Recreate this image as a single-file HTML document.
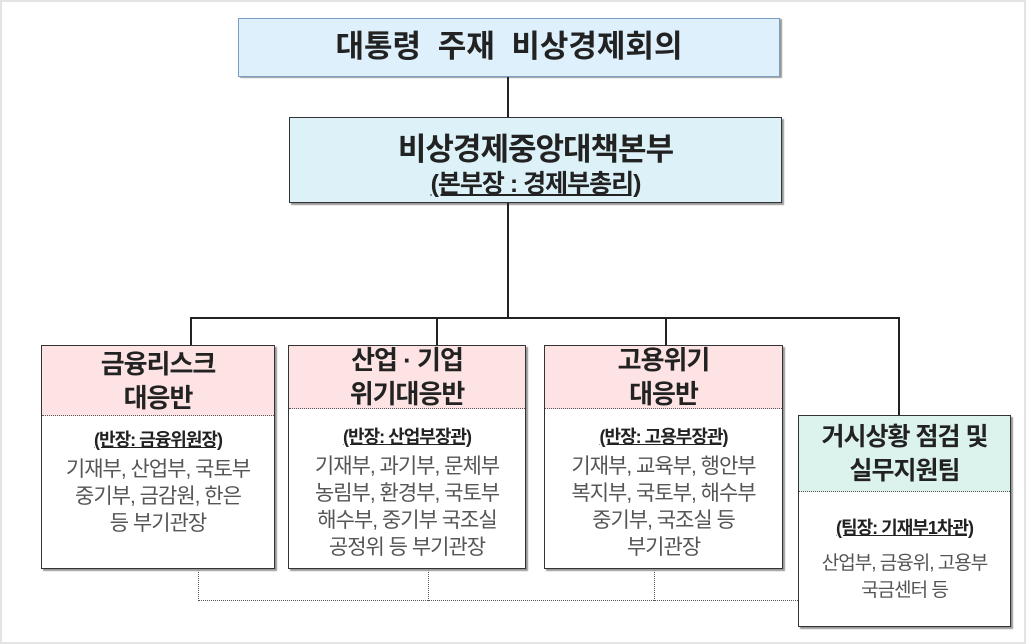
<!DOCTYPE html>
<html><head><meta charset="utf-8"><style>
body{margin:0;width:1026px;height:644px;background:#fff;position:relative;overflow:hidden;font-family:"Liberation Sans","Noto Sans CJK KR","NanumGothic",sans-serif}
div{position:absolute;box-sizing:border-box}
.l{background:#222}
.box{border:1.5px solid #333;background:#fff;box-shadow:2px 2px 1px #999}
.hd{left:0;right:0;top:0;background:#fde3e3;border-bottom:1.5px dotted #555;text-align:center;font-weight:bold;font-size:26px;line-height:34px;color:#222;display:flex;align-items:center;justify-content:center;letter-spacing:-1px}
.sub{left:0;right:0;text-align:center;font-weight:bold;font-size:18px;color:#222;letter-spacing:-1px}
.sub span{text-decoration:underline}
.bd{left:0;right:0;text-align:center;font-size:21px;line-height:27px;color:#555;letter-spacing:-1px;white-space:nowrap}
.dl{border-left:1.5px dotted #555;width:0}
</style></head><body>
<div style="left:0;top:0;width:1026px;height:644px;border:2px solid #e4e4e4"></div>
<div style="left:238px;top:18px;width:542px;height:59px;background:#ddf0fb;border:1.5px solid #7a9cc0;box-shadow:2px 1px 1px #999;text-align:center;font-weight:bold;font-size:31px;line-height:56px;color:#222;word-spacing:8px">대통령 주재 비상경제회의</div>
<div class="l" style="left:507px;top:77px;width:1.5px;height:40px"></div>
<div style="left:289px;top:117px;width:493px;height:86px;background:#ddf2f8;border:1.5px solid #333;box-shadow:2px 2px 1px #999;text-align:center;font-weight:bold;color:#222">
<div style="left:0;right:0;top:6px;font-size:31px;letter-spacing:-1px">비상경제중앙대책본부</div>
<div style="left:0;right:0;top:46px;font-size:25px;letter-spacing:-1px"><span style="text-decoration:underline">(본부장 : 경제부총리)</span></div></div>
<div class="l" style="left:507px;top:203px;width:1.5px;height:114px"></div>
<div class="l" style="left:190px;top:317px;width:709px;height:1.5px"></div>
<div class="l" style="left:190px;top:317px;width:1.5px;height:28px"></div>
<div class="l" style="left:436px;top:317px;width:1.5px;height:28px"></div>
<div class="l" style="left:665px;top:317px;width:1.5px;height:28px"></div>
<div class="l" style="left:898px;top:317px;width:1.5px;height:98px"></div>
<div class="dl" style="left:198px;top:569px;height:32px"></div>
<div class="dl" style="left:428px;top:569px;height:32px"></div>
<div class="dl" style="left:654px;top:569px;height:32px"></div>
<div style="left:198px;top:600px;width:600px;border-top:1.5px dotted #555"></div>

<div class="box" style="left:41px;top:345px;width:234px;height:224px">
<div class="hd" style="height:70px">금융리스크<br>대응반</div>
<div class="sub" style="top:80px"><span>(반장: 금융위원장)</span></div>
<div class="bd" style="top:110px">기재부, 산업부, 국토부<br>중기부, 금감원, 한은<br>등 부기관장</div></div>

<div class="box" style="left:288px;top:345px;width:238px;height:224px">
<div class="hd" style="height:63px">산업 · 기업<br>위기대응반</div>
<div class="sub" style="top:77px"><span>(반장: 산업부장관)</span></div>
<div class="bd" style="top:107px">기재부, 과기부, 문체부<br>농림부, 환경부, 국토부<br>해수부, 중기부 국조실<br>공정위 등 부기관장</div></div>

<div class="box" style="left:544px;top:345px;width:239px;height:224px">
<div class="hd" style="height:63px">고용위기<br>대응반</div>
<div class="sub" style="top:77px"><span>(반장: 고용부장관)</span></div>
<div class="bd" style="top:107px">기재부, 교육부, 행안부<br>복지부, 국토부, 해수부<br>중기부, 국조실 등<br>부기관장</div></div>

<div class="box" style="left:798px;top:415px;width:213px;height:212px">
<div class="hd" style="height:76px;background:#dcf2ec;font-size:25px">거시상황 점검 및<br>실무지원팀</div>
<div class="sub" style="top:98px"><span>(팀장: 기재부1차관)</span></div>
<div class="bd" style="top:134px;font-size:19px">산업부, 금융위, 고용부<br>국금센터 등</div></div>
</body></html>
